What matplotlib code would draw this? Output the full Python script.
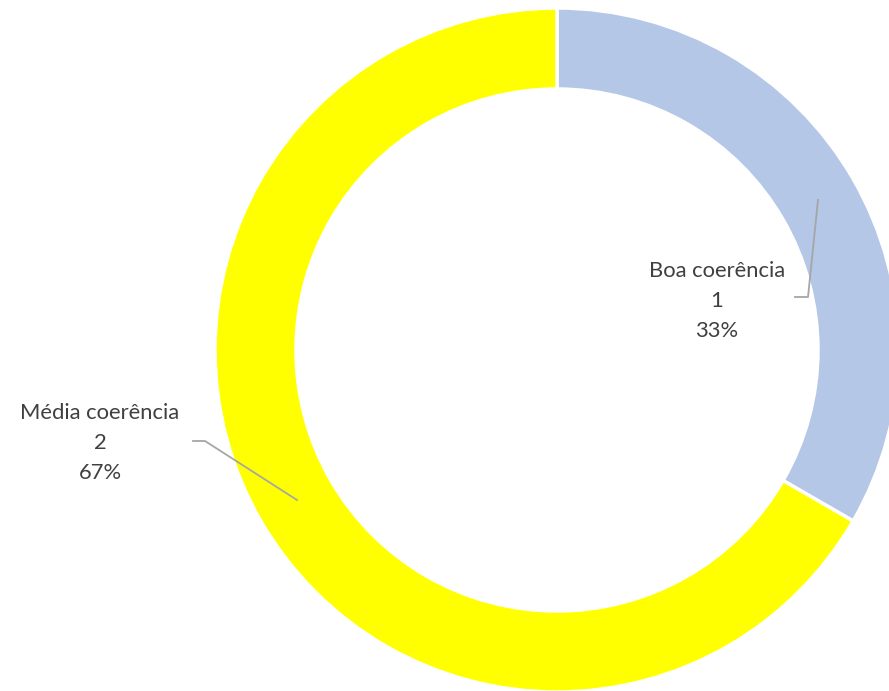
import matplotlib
matplotlib.use("Agg")
import matplotlib.pyplot as plt

categories = ["Boa coerência", "Média coerência"]
values = [1, 2]
colors = ["#B4C7E7", "#FFFF00"]

W, H = 889, 691
fig = plt.figure(figsize=(W / 100, H / 100), dpi=100)
ax = fig.add_axes([0, 0, 1, 1])

cx, cy = 557, H - 350
R = 342
wedges, _ = ax.pie(values, colors=colors, startangle=90, counterclock=False,
                   radius=R, center=(cx, cy), frame=True,
                   wedgeprops=dict(width=81, edgecolor="white", linewidth=2.5))
ax.set_xlim(0, W)
ax.set_ylim(0, H)
ax.set_aspect("equal")
ax.axis("off")

total = sum(values)
labels = [f"{c}\n{v}\n{round(100 * v / total)}%" for c, v in zip(categories, values)]
label_pos = [(717, H - 301), (100, H - 443)]
leaders = [[(818, 200), (808, 297), (795, 297)],
           [(297, 500), (205, 441), (193, 441)]]
for lab, (lx, ly), pts in zip(labels, label_pos, leaders):
    ax.text(lx, ly, lab, ha="center", va="center", fontsize=15.8, color="#404040",
            family=["Lato", "DejaVu Sans"], linespacing=1.6)
    ax.plot([p[0] for p in pts], [H - p[1] for p in pts], color="#A6A6A6", lw=1.3)

fig.savefig("out.png", dpi=100)
